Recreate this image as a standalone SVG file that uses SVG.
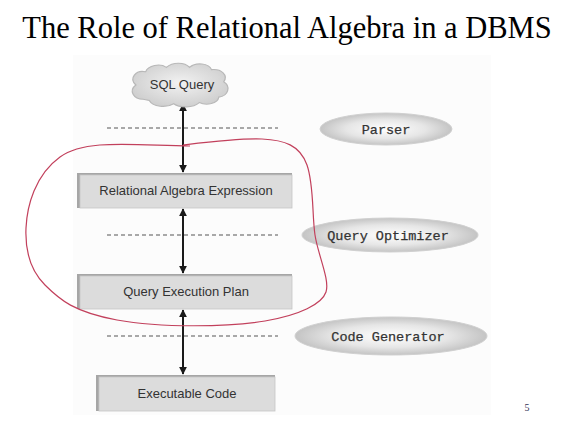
<svg xmlns="http://www.w3.org/2000/svg" width="567" height="432" viewBox="0 0 567 432">
<defs>
<radialGradient id="eg" cx="50%" cy="50%" r="50%">
<stop offset="0" stop-color="#ffffff"/>
<stop offset="0.6" stop-color="#e6e6e6"/>
<stop offset="1" stop-color="#c4c4c4"/>
</radialGradient>
<radialGradient id="cg" cx="50%" cy="45%" r="55%">
<stop offset="0" stop-color="#f2f2f2"/>
<stop offset="1" stop-color="#cfcfcf"/>
</radialGradient>
<marker id="ah" viewBox="0 0 10 10" refX="9" refY="5" markerWidth="8" markerHeight="8" markerUnits="userSpaceOnUse" orient="auto-start-reverse">
<path d="M0,0 L10,5 L0,10 z" fill="#1a1a1a"/>
</marker>
<style>
.box-shadow{fill:#a6a6a6}
.box{fill:#dcdcdc;stroke:#c6c6c6;stroke-width:0.8}
.lbl{font-family:"Liberation Sans",Arial,sans-serif;font-size:13px;fill:#333;text-anchor:middle}
.mono{font-family:"Liberation Mono","Courier New",monospace;font-size:13.5px;fill:#333;text-anchor:middle;stroke:#333;stroke-width:0.25}
.ell{fill:url(#eg);stroke:#d0d0d0;stroke-width:1}
.dash{stroke:#555;stroke-width:1;stroke-dasharray:4 3;fill:none}
.arrow{stroke:#1a1a1a;stroke-width:2;fill:none;marker-start:url(#ah);marker-end:url(#ah)}
</style>
</defs>
<rect width="567" height="432" fill="#ffffff"/>
<rect x="73" y="55" width="418" height="360" fill="#fcfcfc"/>
<text x="287" y="38" font-family="'Liberation Serif','Times New Roman',serif" font-size="30.5" fill="#000" text-anchor="middle">The Role of Relational Algebra in a DBMS</text>

<g id="connectors">
<line class="dash" x1="107" y1="128" x2="278" y2="128"/>
<line class="dash" x1="107" y1="235" x2="278" y2="235"/>
<line class="dash" x1="107" y1="336" x2="278" y2="336"/>
<line class="arrow" x1="183" y1="104" x2="183" y2="172"/>
<line class="arrow" x1="183" y1="209" x2="183" y2="273"/>
<line class="arrow" x1="183" y1="310" x2="183" y2="374"/>
</g>

<g id="sql-query">
<path transform="translate(181,85) scale(1.22,1.1) translate(-177,-86)" d="M146,99 c-8,0 -12,-8 -6,-13 c-6,-6 0,-14 8,-12 c2,-6 12,-8 17,-4 c5,-5 15,-5 19,0 c5,-5 16,-4 18,2 c8,-1 14,5 10,11 c6,4 4,13 -4,14 c-1,6 -10,8 -16,5 c-5,5 -16,5 -21,1 c-6,4 -17,3 -20,-3 z" fill="url(#cg)" stroke="#b8b8b8" stroke-width="1"/>
<text class="lbl" x="182" y="89">SQL Query</text>
</g>

<g id="parser">
<ellipse class="ell" cx="386" cy="129" rx="66" ry="16"/>
<text class="mono" x="386" y="133.5">Parser</text>
</g>

<g id="relational-algebra-expression">
<rect class="box-shadow" x="77" y="173" width="215" height="35"/>
<rect class="box" x="80" y="175" width="212" height="33"/>
<text class="lbl" x="186" y="195">Relational Algebra Expression</text>
</g>

<g id="query-optimizer">
<ellipse class="ell" cx="390" cy="235" rx="88" ry="17"/>
<text class="mono" x="388" y="239.5">Query Optimizer</text>
</g>

<g id="query-execution-plan">
<rect class="box-shadow" x="77" y="274" width="215" height="35"/>
<rect class="box" x="80" y="276" width="212" height="33"/>
<text class="lbl" x="186" y="296">Query Execution Plan</text>
</g>

<g id="code-generator">
<ellipse class="ell" cx="391" cy="336" rx="96" ry="19"/>
<text class="mono" x="388" y="340.5">Code Generator</text>
</g>

<g id="executable-code">
<rect class="box-shadow" x="96" y="375" width="179" height="36"/>
<rect class="box" x="99" y="377" width="176" height="34"/>
<text class="lbl" x="187" y="398">Executable Code</text>
</g>

<path d="M183,145 C200,143 240,138 262,139 S300,145 307,165 S312,215 315,235 S330,280 326,292 S300,315 265,321 S160,328 117,320 S60,300 45,285 S25,250 26,228 S35,175 60,157 S130,145 190,146" fill="none" stroke="#c2405c" stroke-width="1.2"/>

<text x="527" y="411" font-family="'Liberation Serif','Times New Roman',serif" font-size="10" fill="#333355" text-anchor="middle">5</text>
</svg>
